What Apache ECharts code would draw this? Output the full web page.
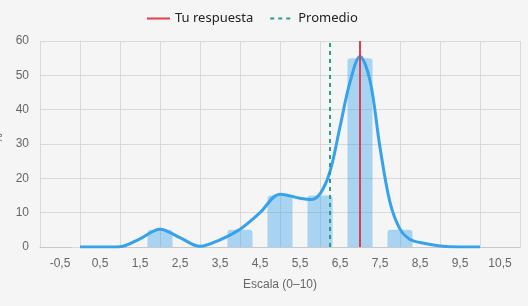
<!DOCTYPE html>
<html>
<head>
<meta charset="utf-8">
<script src="https://cdn.jsdelivr.net/npm/echarts@6/dist/echarts.min.js"></script>
<style>
  html, body { margin: 0; padding: 0; background: #f5f5f5; }
  #chart { width: 528px; height: 306px; }
</style>
</head>
<body>
<div id="chart"></div>
<script>
// etiquetas del eje x (entre las marcas)
var xLabels = ['-0,5', '0,5', '1,5', '2,5', '3,5', '4,5', '5,5', '6,5', '7,5', '8,5', '9,5', '10,5'];
// barras: [valor de escala, porcentaje]
var barData = [[2, 5], [4, 5], [5, 15], [6, 15], [7, 55], [8, 5]];
// curva de densidad
var curveX = [0, 0.5, 1, 1.5, 2, 2.5, 3, 3.5, 4, 4.5, 5, 5.5, 5.75, 6, 6.25, 6.5, 6.75, 7, 7.25, 7.5, 7.75, 8, 8.25, 8.5, 9, 9.5, 10];
var curveY = [0, 0, 0.1, 2.4, 5.2, 2.7, 0.2, 2.1, 5.2, 10, 15.4, 14.2, 13.8, 15.5, 22, 35, 48, 55.5, 48.5, 29, 13, 5.2, 2.2, 1.3, 0.3, 0, 0];
// líneas verticales
var tuRespuesta = 7;
var promedio = 6.25;
var yMax = 60;

var chart = echarts.init(document.getElementById('chart'));

var curve = [];
for (var i = 0; i < curveX.length; i++) {
	curve.push([curveX[i], curveY[i]]);
}

var option = {
	backgroundColor: '#f5f5f5',
	animation: false,
	legend: {
		top: 12,
		left: 146,
		padding: 0,
		itemWidth: 23,
		itemHeight: 10,
		itemGap: 16,
		itemStyle: { opacity: 0 },
		textStyle: { fontFamily: 'Noto Sans', fontSize: 13, color: '#222' },
		data: ['Tu respuesta', 'Promedio']
	},
	grid: { left: 40, right: 8, top: 41, bottom: 59, containLabel: false, outerBoundsMode: 'none' },
	xAxis: [{
		// eje de etiquetas
		type: 'category',
		data: xLabels,
		boundaryGap: true,
		axisLine: { lineStyle: { color: '#c8c8c8' } },
		axisTick: { length: 8, lineStyle: { color: '#d2d2d2' } },
		axisLabel: { color: '#666', fontFamily: 'Liberation Sans', fontSize: 12, margin: 11 },
		splitLine: { show: true, lineStyle: { color: '#d9d9d9' } },
		name: 'Escala (0–10)',
		nameLocation: 'middle',
		nameGap: 32,
		nameTextStyle: { color: '#666', fontFamily: 'Liberation Sans', fontSize: 12 }
	}, {
		// eje de datos
		type: 'value',
		min: -1,
		max: 11,
		show: false
	}],
	yAxis: {
		type: 'value',
		min: 0,
		max: yMax,
		interval: 10,
		name: '%',
		nameLocation: 'middle',
		nameGap: 35,
		nameTextStyle: { color: '#666', fontFamily: 'Liberation Sans', fontSize: 12, padding: [0, 0, 0, 11] },
		axisLine: { show: true, lineStyle: { color: '#d9d9d9' } },
		axisTick: { show: true, length: 8, lineStyle: { color: '#d9d9d9' } },
		axisLabel: { color: '#666', fontFamily: 'Liberation Sans', fontSize: 12, margin: 11 },
		splitLine: { lineStyle: { color: '#d9d9d9' } }
	},
	series: [{
		type: 'bar',
		xAxisIndex: 1,
		barWidth: 25,
		itemStyle: { color: 'rgba(54,162,235,0.4)', borderRadius: [3, 3, 0, 0] },
		data: barData,
		z: 1
	}, {
		type: 'line',
		xAxisIndex: 1,
		smooth: 0.35,
		symbol: 'none',
		lineStyle: { color: '#36a2eb', width: 3 },
		data: curve,
		z: 3
	}, {
		name: 'Tu respuesta',
		type: 'line',
		xAxisIndex: 1,
		symbol: 'none',
		color: '#e03e4e',
		lineStyle: { color: '#e03e4e', width: 2 },
		data: [[tuRespuesta, 0], [tuRespuesta, yMax]],
		z: 4
	}, {
		name: 'Promedio',
		type: 'line',
		xAxisIndex: 1,
		symbol: 'none',
		color: '#2a9d8f',
		lineStyle: { color: '#2a9d8f', width: 2, type: [4, 4] },
		data: [[promedio, 0], [promedio, yMax]],
		z: 4
	}]
};

chart.setOption(option);
</script>
</body>
</html>
